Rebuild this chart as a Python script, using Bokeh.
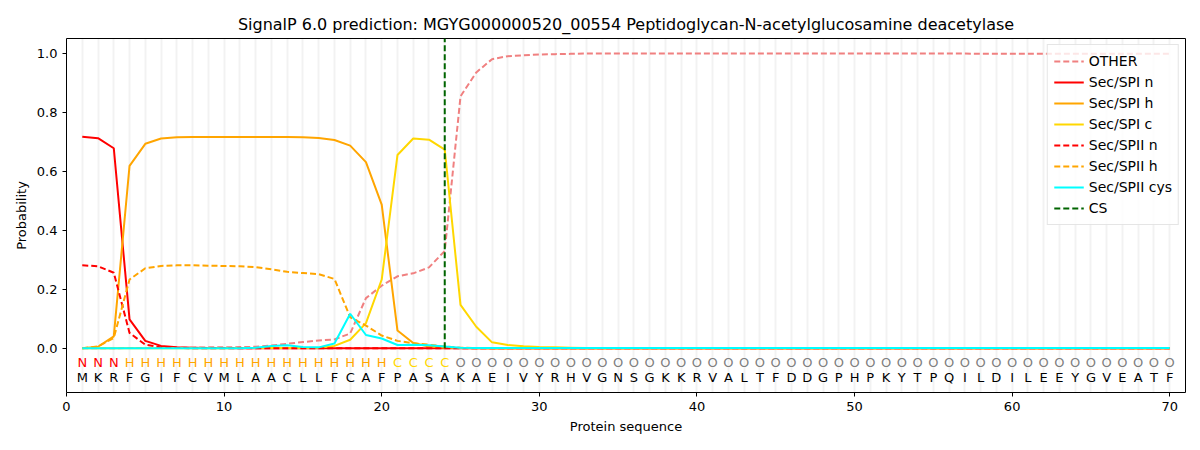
from bokeh.plotting import figure
from bokeh.models import Range1d, Legend, LegendItem, ColumnDataSource, CustomJSTickFormatter
from bokeh.core.properties import value
from bokeh.embed import file_html
from bokeh.resources import INLINE

title = "SignalP 6.0 prediction: MGYG000000520_00554 Peptidoglycan-N-acetylglucosamine deacetylase"
sequence = list("MKRFGIFCVMLAACLLFCAFPASAKAEIVYRHVGNSGKKRVALTFDDGPHPKYTPQILDILEEYGVEATF")
annotation = list("NNN" + "H" * 17 + "C" * 4 + "O" * 46)
positions = list(range(1, 71))
cs_position = 24

other = [0.0, 0.0, 0.0, 0.001, 0.001, 0.001, 0.002, 0.002, 0.003, 0.003,
         0.004, 0.005, 0.009, 0.015, 0.021, 0.026, 0.030, 0.050, 0.170, 0.212,
         0.244, 0.254, 0.274, 0.330, 0.854, 0.935, 0.980, 0.990, 0.993, 0.996,
         0.997, 0.998, 0.999, 0.999, 0.999, 0.999, 0.999, 0.999, 0.999, 0.999,
         0.999, 0.999, 0.999, 0.999, 0.999, 0.999, 0.999, 0.999, 0.999, 0.999,
         0.999, 0.999, 0.999, 0.999, 0.999, 0.999, 0.999, 0.998, 0.998, 0.998,
         0.998, 0.998, 0.998, 0.998, 0.998, 0.998, 0.998, 0.998, 0.998, 0.998]
sp1_n = [0.717, 0.712, 0.678, 0.098, 0.025, 0.008, 0.003, 0.002, 0.001, 0.001] + [0.0] * 60
sp1_h = [0.0, 0.005, 0.040, 0.618, 0.693, 0.711, 0.715, 0.716, 0.716, 0.716,
         0.716, 0.716, 0.716, 0.716, 0.715, 0.713, 0.706, 0.687, 0.631, 0.487,
         0.060, 0.018, 0.006, 0.002, 0.001] + [0.0] * 45
sp1_c = [0.0] * 10 + [0.001, 0.001, 0.001, 0.001, 0.001, 0.002, 0.008, 0.029, 0.085, 0.233,
                      0.655, 0.711, 0.707, 0.673, 0.147, 0.073, 0.020, 0.011, 0.007, 0.004,
                      0.003, 0.002] + [0.001] * 38
sp2_n = [0.281, 0.278, 0.256, 0.052, 0.012, 0.003, 0.001] + [0.0] * 63
sp2_h = [0.0, 0.006, 0.035, 0.233, 0.271, 0.279, 0.281, 0.281, 0.280, 0.279,
         0.278, 0.275, 0.268, 0.259, 0.255, 0.251, 0.235, 0.105, 0.077, 0.043,
         0.025, 0.017, 0.012, 0.006, 0.002, 0.001] + [0.0] * 44
sp2_cys = [0.0] * 11 + [0.002, 0.008, 0.010, 0.004, 0.003, 0.016, 0.117, 0.045, 0.033,
                        0.011, 0.012, 0.010, 0.006, 0.002] + [0.001] * 45

ann_colors = {"N": "red", "H": "orange", "C": "#FFD700", "O": "gray"}
ann_y = -0.047
seq_y = -0.098

FONT = "DejaVu Sans"

p = figure(width=1200, height=450, output_backend="svg", toolbar_location=None,
           x_range=Range1d(0, 71), y_range=Range1d(-0.15, 1.05),
           min_border_left=66, min_border_right=15, min_border_top=38, min_border_bottom=58)

p.title.text = title
p.title.align = "center"
p.title.text_font = FONT
p.title.text_font_size = "16px"
p.title.text_font_style = "normal"
p.title.text_color = "black"

p.outline_line_color = "black"
p.outline_line_width = 1
p.ygrid.visible = False
p.xgrid.ticker = positions
p.xgrid.grid_line_color = "#000000"
p.xgrid.grid_line_alpha = 0.05
p.xgrid.grid_line_width = 2

p.xaxis.ticker = [0, 10, 20, 30, 40, 50, 60, 70]
p.yaxis.ticker = [0.0, 0.2, 0.4, 0.6, 0.8, 1.0]
p.yaxis.formatter = CustomJSTickFormatter(code="return tick.toFixed(1);")
for ax in (p.xaxis, p.yaxis):
    ax.major_tick_in = 0
    ax.major_tick_out = 4
    ax.major_tick_line_color = "black"
    ax.minor_tick_line_color = None
    ax.axis_line_color = None
    ax.major_label_text_font = FONT
    ax.major_label_text_font_size = "13px"
    ax.major_label_text_color = "black"
    ax.axis_label_text_font = FONT
    ax.axis_label_text_font_size = "13px"
    ax.axis_label_text_font_style = "normal"
    ax.axis_label_text_color = "black"
p.xaxis.axis_label = "Protein sequence"
p.yaxis.axis_label = "Probability"

lw = 2
r_other = p.line(positions, other, line_color="#F08080", line_width=lw, line_dash="6 3")
r_n = p.line(positions, sp1_n, line_color="red", line_width=lw)
r_h = p.line(positions, sp1_h, line_color="orange", line_width=lw)
r_c = p.line(positions, sp1_c, line_color="#FFD700", line_width=lw)
r_n2 = p.line(positions, sp2_n, line_color="red", line_width=lw, line_dash="6 3")
r_h2 = p.line(positions, sp2_h, line_color="orange", line_width=lw, line_dash="6 3")
r_cys = p.line(positions, sp2_cys, line_color="cyan", line_width=lw)
r_cs = p.segment(x0=[cs_position], y0=[0.0], x1=[cs_position], y1=[p.y_range.end],
                 line_color="#006400", line_width=lw, line_dash="6 3")

src_ann = ColumnDataSource(dict(x=positions, y=[ann_y] * len(positions), t=annotation,
                                c=[ann_colors[a] for a in annotation]))
p.text(x="x", y="y", text="t", text_color="c", source=src_ann, text_align="center",
       text_baseline="middle", text_font=value(FONT), text_font_size="13px")
src_seq = ColumnDataSource(dict(x=positions, y=[seq_y] * len(positions), t=sequence))
p.text(x="x", y="y", text="t", text_color="black", source=src_seq, text_align="center",
       text_baseline="middle", text_font=value(FONT), text_font_size="13px")

legend = Legend(items=[
    LegendItem(label="OTHER", renderers=[r_other]),
    LegendItem(label="Sec/SPI n", renderers=[r_n]),
    LegendItem(label="Sec/SPI h", renderers=[r_h]),
    LegendItem(label="Sec/SPI c", renderers=[r_c]),
    LegendItem(label="Sec/SPII n", renderers=[r_n2]),
    LegendItem(label="Sec/SPII h", renderers=[r_h2]),
    LegendItem(label="Sec/SPII cys", renderers=[r_cys]),
    LegendItem(label="CS", renderers=[r_cs]),
], location="top_right")
legend.label_text_font = FONT
legend.label_text_font_size = "14px"
legend.label_text_color = "black"
legend.glyph_width = 30
legend.glyph_height = 20
legend.label_height = 20
legend.spacing = 1
legend.padding = 6
legend.margin = 6
legend.border_line_color = "#cccccc"
legend.background_fill_alpha = 0.8
p.add_layout(legend, "center")

open("out.html", "w").write(file_html(p, INLINE))
